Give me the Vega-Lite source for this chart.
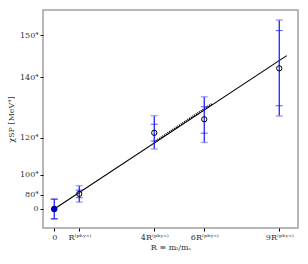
{
  "$schema": "https://vega.github.io/schema/vega-lite/v6.json",
  "autosize": "none",
  "padding": {"left": 43, "top": 10, "right": 10, "bottom": 36},
  "width": 255,
  "height": 218,
  "config": {
    "view": {"stroke": "#a0a0a0", "strokeWidth": 1.5},
    "font": "DejaVu Serif",
    "axis": {"domain": false, "grid": false, "tickColor": "black", "tickSize": 3, "labelFont": "DejaVu Serif", "labelFontSize": 8, "labelColor": "#333", "titleFont": "DejaVu Serif", "titleFontSize": 8, "titleFontWeight": "normal", "titleColor": "#333"}
  },
  "datasets": {
    "pts": [
      {"x": 0, "y": 0, "lo": -0.28, "hi": 0.28, "lo2": -0.3, "hi2": 0.3, "filled": true},
      {"x": 1, "y": 0.44, "lo": 0.33, "hi": 0.55, "lo2": 0.2, "hi2": 0.68, "filled": false},
      {"x": 4, "y": 2.22, "lo": 1.98, "hi": 2.47, "lo2": 1.75, "hi2": 2.72, "filled": false},
      {"x": 6, "y": 2.615, "lo": 2.21, "hi": 2.98, "lo2": 1.94, "hi2": 3.27, "filled": false},
      {"x": 9, "y": 4.1, "lo": 3.01, "hi": 5.2, "lo2": 2.71, "hi2": 5.51, "filled": false}
    ],
    "fit": [
      {"x": 0, "y": 0},
      {"x": 9.3, "y": 4.47}
    ],
    "band": [
      {"x": 4, "y": 1.95},
      {"x": 6.3, "y": 3.06}
    ]
  },
  "layer": [
    {
      "data": {"name": "fit"},
      "mark": {"type": "line", "color": "black", "strokeWidth": 1.1},
      "encoding": {
        "x": {"field": "x", "type": "quantitative", "scale": {"domain": [-0.45, 9.75], "nice": false, "zero": false},
          "axis": {"values": [0, 1, 4, 6, 9], "title": "R ≡ mₗ/mₛ", "titlePadding": 2, "labelPadding": 2,
            "labelExpr": "datum.value == 0 ? '0' : (datum.value == 1 ? 'R⁽ᵖʰʸˢ⁾' : datum.value + 'R⁽ᵖʰʸˢ⁾')"}},
        "y": {"field": "y", "type": "quantitative", "scale": {"domain": [-0.554, 5.8], "nice": false, "zero": false},
          "axis": {"values": [0, 0.4096, 1, 2.0736, 3.8416, 5.0625], "title": "χSP [MeV⁴]", "titlePadding": 4, "labelPadding": 2,
            "labelExpr": "datum.value == 0 ? '0' : (datum.value < 0.5 ? '80⁴' : (datum.value < 1.5 ? '100⁴' : (datum.value < 3 ? '120⁴' : (datum.value < 4 ? '140⁴' : '150⁴'))))"}}
      }
    },
    {
      "data": {"name": "band"},
      "mark": {"type": "line", "color": "black", "strokeWidth": 2, "strokeDash": [1, 1]},
      "encoding": {
        "x": {"field": "x", "type": "quantitative"},
        "y": {"field": "y", "type": "quantitative"}
      }
    },
    {
      "data": {"name": "pts"},
      "mark": {"type": "rule", "color": "#1010ff", "strokeWidth": 1.2},
      "encoding": {
        "x": {"field": "x", "type": "quantitative"},
        "y": {"field": "lo2", "type": "quantitative"},
        "y2": {"field": "hi2"}
      }
    },
    {
      "data": {"name": "pts"},
      "mark": {"type": "tick", "orient": "horizontal", "color": "#8080ff", "size": 7, "thickness": 1.5},
      "encoding": {
        "x": {"field": "x", "type": "quantitative"},
        "y": {"field": "lo2", "type": "quantitative"}
      }
    },
    {
      "data": {"name": "pts"},
      "mark": {"type": "tick", "orient": "horizontal", "color": "#8080ff", "size": 7, "thickness": 1.5},
      "encoding": {
        "x": {"field": "x", "type": "quantitative"},
        "y": {"field": "hi2", "type": "quantitative"}
      }
    },
    {
      "data": {"name": "pts"},
      "mark": {"type": "tick", "orient": "horizontal", "color": "#1010ff", "size": 7, "thickness": 1},
      "encoding": {
        "x": {"field": "x", "type": "quantitative"},
        "y": {"field": "lo", "type": "quantitative"}
      }
    },
    {
      "data": {"name": "pts"},
      "mark": {"type": "tick", "orient": "horizontal", "color": "#1010ff", "size": 7, "thickness": 1},
      "encoding": {
        "x": {"field": "x", "type": "quantitative"},
        "y": {"field": "hi", "type": "quantitative"}
      }
    },
    {
      "data": {"name": "pts"},
      "transform": [{"filter": "!datum.filled"}],
      "mark": {"type": "point", "shape": "circle", "filled": false, "stroke": "black", "strokeWidth": 1, "size": 28, "opacity": 1},
      "encoding": {
        "x": {"field": "x", "type": "quantitative"},
        "y": {"field": "y", "type": "quantitative"}
      }
    },
    {
      "data": {"name": "pts"},
      "transform": [{"filter": "datum.filled"}],
      "mark": {"type": "point", "shape": "circle", "filled": true, "fill": "#0000cc", "stroke": "#000080", "strokeWidth": 1, "size": 32, "opacity": 1},
      "encoding": {
        "x": {"field": "x", "type": "quantitative"},
        "y": {"field": "y", "type": "quantitative"}
      }
    }
  ]
}
